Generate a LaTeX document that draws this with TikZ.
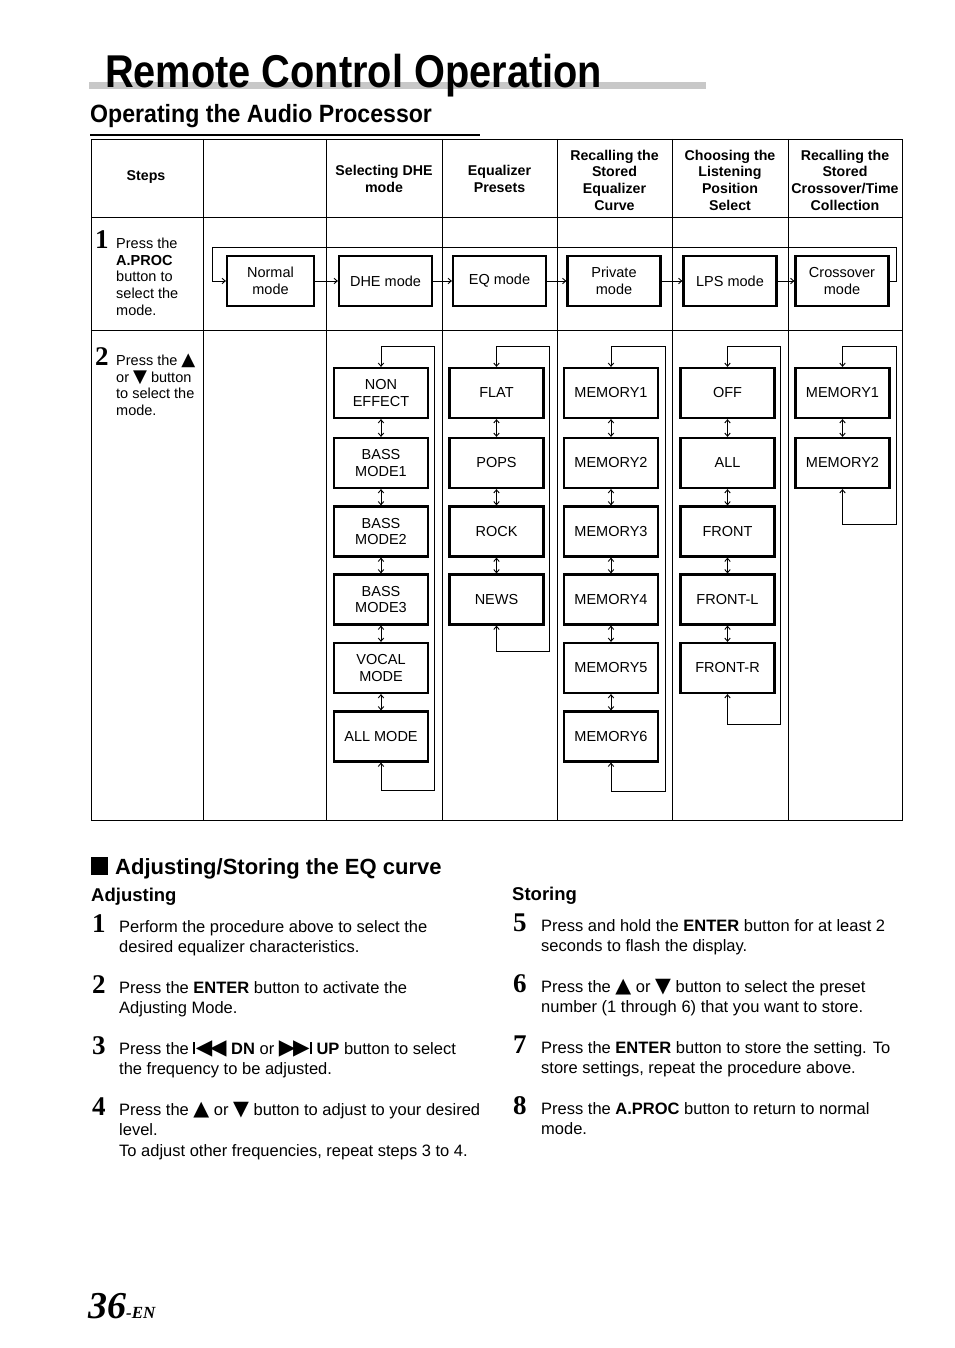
\documentclass[tikz,border=0pt]{standalone}
\usepackage{fontspec}
\setmainfont{Liberation Sans}
\newfontfamily\numfont{Liberation Serif}
\newfontfamily\symfont{DejaVu Sans}
\usetikzlibrary{arrows.meta}
\definecolor{bargray}{RGB}{200,200,200}
\newcommand{\triup}{{\symfont\scalebox{1.25}{▲}}}
\newcommand{\tridn}{{\symfont\scalebox{1.25}{▼}}}
\newcommand{\prevbtn}{{\rule{2pt}{0.74em}\kern0.3pt{\symfont\scalebox{1.3}{◀}\kern-2.2pt\scalebox{1.3}{◀}}}}
\newcommand{\nextbtn}{{{\symfont\scalebox{1.3}{▶}\kern-2.2pt\scalebox{1.3}{▶}}\kern0.3pt\rule{2pt}{0.74em}}}
\begin{document}
\begin{tikzpicture}[x=1pt,y=-1pt,
  tline/.style={line width=0.9pt},
  modebox/.style={draw,line width=2.2pt,minimum width=93pt,minimum height=50pt,inner sep=0pt,align=center,font=\fontsize{14.5}{16.7}\selectfont},
  selbox/.style={modebox,minimum width=94pt},
  flow/.style={line width=0.9pt},
  hdr/.style={font=\bfseries\fontsize{14.2}{16.7}\selectfont,align=center,inner sep=0pt},
  ln/.style={anchor=base west,inner sep=0pt,font=\fontsize{14.5}{16.7}\selectfont},
  bl/.style={anchor=base west,inner sep=0pt,font=\fontsize{16.5}{20.5}\selectfont},
  stepnum/.style={anchor=base west,inner sep=0pt,font=\numfont\bfseries\fontsize{27}{27}\selectfont},
  >={Straight Barb[length=3.2pt,width=5.5pt]}]
\useasboundingbox (0,0) rectangle (954,1348);

% ---- title ----
\fill[bargray] (89,82) rectangle (706,89);
\node[anchor=base west,inner sep=0pt,font=\bfseries\fontsize{46}{46}\selectfont] (title) at (105,88) {\scalebox{0.864}[1]{Remote Control Operation}};
\node[anchor=base west,inner sep=0pt,font=\bfseries\fontsize{25}{25}\selectfont] (subtitle) at (90,123) {\scalebox{0.925}[1]{Operating the Audio Processor}};
\draw[line width=2pt] (90,135) -- (480,135);

% ---- table grid ----
\draw[tline] (91,139) rectangle (902,820);
\foreach \xx in {203,326,442,557,672,788} \draw[tline] (\xx,139) -- (\xx,820);
\draw[tline] (91,217) -- (902,217);
\draw[tline] (91,330) -- (902,330);

% ---- headers ----
\node[hdr] (hsteps) at (146,177) {Steps};
\node[hdr] (hdhe) at (384,179) {Selecting DHE\\mode};
\node[hdr] (heq) at (499.5,179) {Equalizer\\Presets};
\node[hdr] (hpriv) at (614.5,180) {Recalling the\\Stored\\Equalizer\\Curve};
\node[hdr] (hlps) at (730,180) {Choosing the\\Listening\\Position\\Select};
\node[hdr] (hcross) at (845,180) {Recalling the\\Stored\\Crossover/Time\\Collection};

% ---- step texts in table ----
\node[stepnum] (s1) at (95,249) {1};
\node[ln] (s1a) at (116,248.5) {Press the};
\node[ln] (s1b) at (116,265.2) {\bfseries A.PROC};
\node[ln] (s1c) at (116,281.9) {button to};
\node[ln] (s1d) at (116,298.6) {select the};
\node[ln] (s1e) at (116,315.3) {mode.};

\node[stepnum] (s2) at (95,365.5) {2};
\node[ln] (s2a) at (116,365.5) {Press the \triup};
\node[ln] (s2b) at (116,382.2) {or \tridn\ button};
\node[ln] (s2c) at (116,398.9) {to select the};
\node[ln] (s2d) at (116,415.6) {mode.};

% ---- row 1: mode cycle ----
\node[modebox,minimum width=87pt] (m1) at (270.5,281) {Normal\\mode};
\node[modebox] (m2) at (385.5,281) {DHE mode};
\node[modebox] (m3) at (499.5,281) {EQ mode};
\node[modebox] (m4) at (614,281) {Private\\mode};
\node[modebox] (m5) at (730,281) {LPS mode};
\node[modebox] (m6) at (842,281) {Crossover\\mode};
\draw[flow,->] (m1.east) -- (m2.west);
\draw[flow,->] (m2.east) -- (m3.west);
\draw[flow,->] (m3.east) -- (m4.west);
\draw[flow,->] (m4.east) -- (m5.west);
\draw[flow,->] (m5.east) -- (m6.west);
\coordinate (r1a) at (896,247);
\coordinate (r1b) at (212,281);
\draw[flow,->] (m6.east) -| (r1a) -| (r1b) -- (m1.west);

% ---- row 2: DHE column ----
\node[selbox] (d1) at (381,393) {NON\\EFFECT};
\node[selbox] (d2) at (381,463) {BASS\\MODE1};
\node[selbox] (d3) at (381,531.5) {BASS\\MODE2};
\node[selbox] (d4) at (381,599.5) {BASS\\MODE3};
\node[selbox] (d5) at (381,668) {VOCAL\\MODE};
\node[selbox] (d6) at (381,736.5) {ALL MODE};
\draw[flow,<->] (d1.south) -- (d2.north);
\draw[flow,<->] (d2.south) -- (d3.north);
\draw[flow,<->] (d3.south) -- (d4.north);
\draw[flow,<->] (d4.south) -- (d5.north);
\draw[flow,<->] (d5.south) -- (d6.north);
\coordinate (dR) at (434,790);
\coordinate (dT) at (381,346);
\draw[flow,<->] (d6.south) |- (dR) |- (dT) -- (d1.north);

% ---- EQ column ----
\node[selbox] (e1) at (496.5,393) {FLAT};
\node[selbox] (e2) at (496.5,463) {POPS};
\node[selbox] (e3) at (496.5,531.5) {ROCK};
\node[selbox] (e4) at (496.5,599.5) {NEWS};
\draw[flow,<->] (e1.south) -- (e2.north);
\draw[flow,<->] (e2.south) -- (e3.north);
\draw[flow,<->] (e3.south) -- (e4.north);
\coordinate (eR) at (549,651);
\coordinate (eT) at (496.5,346);
\draw[flow,<->] (e4.south) |- (eR) |- (eT) -- (e1.north);

% ---- Private column ----
\node[selbox] (p1) at (611,393) {MEMORY1};
\node[selbox] (p2) at (611,463) {MEMORY2};
\node[selbox] (p3) at (611,531.5) {MEMORY3};
\node[selbox] (p4) at (611,599.5) {MEMORY4};
\node[selbox] (p5) at (611,668) {MEMORY5};
\node[selbox] (p6) at (611,736.5) {MEMORY6};
\draw[flow,<->] (p1.south) -- (p2.north);
\draw[flow,<->] (p2.south) -- (p3.north);
\draw[flow,<->] (p3.south) -- (p4.north);
\draw[flow,<->] (p4.south) -- (p5.north);
\draw[flow,<->] (p5.south) -- (p6.north);
\coordinate (pR) at (665,791);
\coordinate (pT) at (611,346);
\draw[flow,<->] (p6.south) |- (pR) |- (pT) -- (p1.north);

% ---- LPS column ----
\node[selbox] (l1) at (727.5,393) {OFF};
\node[selbox] (l2) at (727.5,463) {ALL};
\node[selbox] (l3) at (727.5,531.5) {FRONT};
\node[selbox] (l4) at (727.5,599.5) {FRONT-L};
\node[selbox] (l5) at (727.5,668) {FRONT-R};
\draw[flow,<->] (l1.south) -- (l2.north);
\draw[flow,<->] (l2.south) -- (l3.north);
\draw[flow,<->] (l3.south) -- (l4.north);
\draw[flow,<->] (l4.south) -- (l5.north);
\coordinate (lR) at (780,724);
\coordinate (lT) at (727.5,346);
\draw[flow,<->] (l5.south) |- (lR) |- (lT) -- (l1.north);

% ---- Crossover column ----
\node[selbox] (c1) at (842.5,393) {MEMORY1};
\node[selbox] (c2) at (842.5,463) {MEMORY2};
\draw[flow,<->] (c1.south) -- (c2.north);
\coordinate (cR) at (896,524);
\coordinate (cT) at (842.5,346);
\draw[flow,<->] (c2.south) |- (cR) |- (cT) -- (c1.north);

% ---- Adjusting / Storing ----
\fill (91,857) rectangle (108,875);
\node[anchor=base west,inner sep=0pt,font=\bfseries\fontsize{22}{22}\selectfont] (sec) at (115,874) {Adjusting/Storing the EQ curve};
\node[anchor=base west,inner sep=0pt,font=\bfseries\fontsize{18.5}{18.5}\selectfont] (adj) at (91,901) {Adjusting};
\node[anchor=base west,inner sep=0pt,font=\bfseries\fontsize{18.5}{18.5}\selectfont] (sto) at (512,900) {Storing};

\node[stepnum] (b1) at (92,932) {1};
\node[bl] (b1a) at (119,932) {Perform the procedure above to select the};
\node[bl] (b1b) at (119,952) {desired equalizer characteristics.};
\node[stepnum] (b2) at (92,993) {2};
\node[bl] (b2a) at (119,993) {Press the \textbf{ENTER} button to activate the};
\node[bl] (b2b) at (119,1013) {Adjusting Mode.};
\node[stepnum] (b3) at (92,1054) {3};
\node[bl] (b3a) at (119,1054) {Press the \prevbtn\ \textbf{DN} or \nextbtn\ \textbf{UP} button to select};
\node[bl] (b3b) at (119,1074) {the frequency to be adjusted.};
\node[stepnum] (b4) at (92,1115) {4};
\node[bl] (b4a) at (119,1115) {Press the \triup\ or \tridn\ button to adjust to your desired};
\node[bl] (b4b) at (119,1135) {level.};
\node[bl] (b4c) at (119,1156) {To adjust other frequencies, repeat steps 3 to 4.};

\node[stepnum] (b5) at (513,931) {5};
\node[bl] (b5a) at (541,931) {Press and hold the \textbf{ENTER} button for at least 2};
\node[bl] (b5b) at (541,951) {seconds to flash the display.};
\node[stepnum] (b6) at (513,992) {6};
\node[bl] (b6a) at (541,992) {Press the \triup\ or \tridn\ button to select the preset};
\node[bl] (b6b) at (541,1012) {number (1 through 6) that you want to store.};
\node[stepnum] (b7) at (513,1053) {7};
\node[bl] (b7a) at (541,1053) {Press the \textbf{ENTER} button to store the setting. To};
\node[bl] (b7b) at (541,1073) {store settings, repeat the procedure above.};
\node[stepnum] (b8) at (513,1114) {8};
\node[bl] (b8a) at (541,1114) {Press the \textbf{A.PROC} button to return to normal};
\node[bl] (b8b) at (541,1134) {mode.};

% ---- page number ----
\node[anchor=base west,inner sep=0pt] (page) at (88,1318) {{\numfont\bfseries\itshape\fontsize{38}{38}\selectfont 36}{\numfont\bfseries\itshape\fontsize{17}{17}\selectfont -EN}};
\end{tikzpicture}
\end{document}
